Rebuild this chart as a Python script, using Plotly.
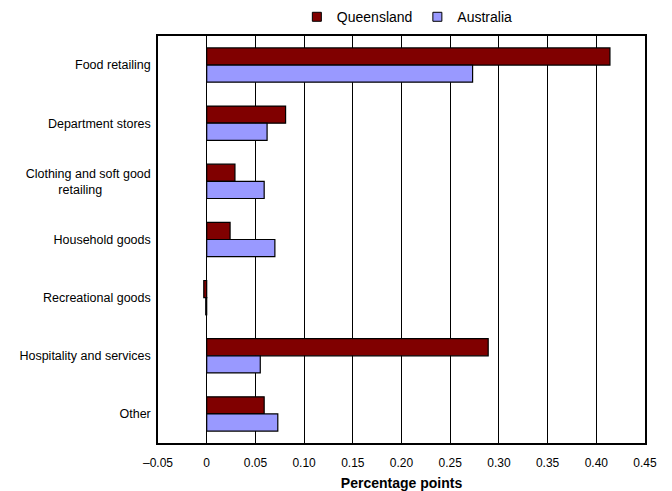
import plotly.graph_objects as go

categories = ["Food retailing", "Department stores", "Clothing and soft good retailing",
              "Household goods", "Recreational goods", "Hospitality and services", "Other"]
category_labels = ["Food retailing", "Department stores",
                   "Clothing and soft good<br>retailing\u00a0\u00a0\u00a0\u00a0\u00a0\u00a0\u00a0\u00a0\u00a0\u00a0\u00a0\u00a0\u00a0\u00a0",
                   "Household goods", "Recreational goods", "Hospitality and services", "Other"]
queensland = [0.414, 0.081, 0.029, 0.024, -0.003, 0.289, 0.059]
australia = [0.273, 0.062, 0.059, 0.070, -0.001, 0.055, 0.073]
series_names = ["Queensland", "Australia"]
series_colors = ["#800000", "#9999FF"]
x_tickvals = [-0.05, 0, 0.05, 0.10, 0.15, 0.20, 0.25, 0.30, 0.35, 0.40, 0.45]
x_ticktext = ["\u20130.05", "0", "0.05", "0.10", "0.15", "0.20", "0.25", "0.30", "0.35", "0.40", "0.45"]

fig = go.Figure()
for name, vals, col in zip(series_names, [queensland, australia], series_colors):
    fig.add_trace(go.Bar(y=categories, x=vals, orientation="h", name=name, showlegend=False,
                         marker=dict(color=col, line=dict(color="black", width=1.2))))
# legend-only entries with small square symbols
for name, col in zip(series_names, series_colors):
    fig.add_trace(go.Scatter(x=[None], y=[None], mode="markers", name=name,
                             marker=dict(symbol="square", size=9, color=col,
                                         line=dict(color="black", width=1))))

fig.update_layout(
    width=672, height=491,
    margin=dict(l=158, r=27, t=36, b=48),
    barmode="group", bargap=0.41, bargroupgap=0,
    plot_bgcolor="white", paper_bgcolor="white",
    font=dict(family="Liberation Sans, Arial, sans-serif", size=12, color="black"),
    legend=dict(orientation="h", x=0.512, xanchor="center", xref="paper",
                y=0.965, yanchor="middle", yref="container",
                font=dict(size=14), itemwidth=30, traceorder="normal",
                tracegroupgap=0, bgcolor="rgba(0,0,0,0)"),
    xaxis=dict(range=[-0.05, 0.45], tickvals=x_tickvals, ticktext=x_ticktext,
               showgrid=True, gridcolor="black", gridwidth=1,
               zeroline=True, zerolinecolor="black", zerolinewidth=1,
               showline=True, linecolor="black", linewidth=1.5, mirror=True,
               ticks="", tickfont=dict(size=12), ticklabelstandoff=8, automargin=False,
               title=dict(text="<b>Percentage points</b>", font=dict(size=14), standoff=9)),
    yaxis=dict(tickvals=categories, ticktext=category_labels, autorange="reversed",
               showgrid=False, showline=True, linecolor="black", linewidth=1.5, mirror=True,
               ticks="", tickfont=dict(size=12.5), ticklabelstandoff=3, automargin=False),
)

fig.write_html("out.html")
